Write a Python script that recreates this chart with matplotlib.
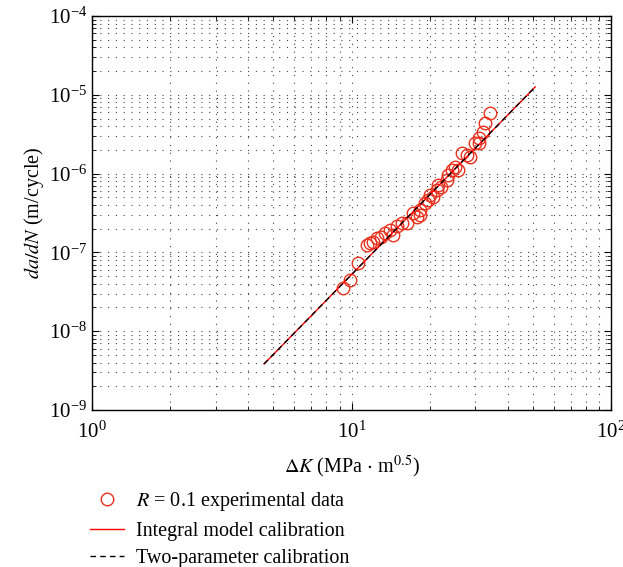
import matplotlib
matplotlib.use("Agg")
import matplotlib.pyplot as plt

plt.rcParams['font.family'] = ['Liberation Serif', 'DejaVu Serif']
plt.rcParams['mathtext.fontset'] = 'stix'

dk_exp = [9.25, 9.87, 10.63, 11.44, 11.79, 12.13, 12.51, 12.99, 13.46, 14.07,
          14.49, 14.93, 15.61, 16.41, 17.21, 17.84, 18.36, 18.36, 19.20, 19.77,
          20.07, 20.66, 21.30, 21.60, 22.07, 23.27, 23.60, 24.32, 25.05, 25.80,
          26.60, 27.80, 28.60, 29.90, 31.10, 31.10, 32.20, 32.70, 34.20]
dadn_exp = [3.50e-8, 4.47e-8, 7.28e-8, 1.24e-7, 1.30e-7, 1.37e-7, 1.51e-7, 1.58e-7, 1.75e-7, 1.92e-7,
            1.66e-7, 2.16e-7, 2.34e-7, 2.38e-7, 3.13e-7, 2.84e-7, 3.45e-7, 2.98e-7, 4.20e-7, 4.62e-7,
            5.35e-7, 5.09e-7, 6.19e-7, 7.17e-7, 6.82e-7, 8.30e-7, 9.60e-7, 1.11e-6, 1.22e-6, 1.11e-6,
            1.81e-6, 1.72e-6, 1.64e-6, 2.43e-6, 2.43e-6, 2.81e-6, 3.40e-6, 4.35e-6, 5.93e-6]

# calibration curves (end points)
dk_integral = [4.6, 51.0]
dadn_integral = [3.84e-9, 1.26e-5]
dk_two = [4.6, 51.0]
dadn_two = [3.84e-9, 1.26e-5]

fig = plt.figure(figsize=(6.23, 5.67), dpi=100)
ax = fig.add_axes([0.1477, 0.2769, 0.8333, 0.6949])

grid_style = dict(color='#444444', linestyle=(0, (1, 6)), linewidth=0.8)
ax.grid(True, which='both', **grid_style)

ax.plot(dk_exp, dadn_exp, 'o', mfc='none', mec='#e8321e', mew=1.0, ms=9,
        label=r'$R$ = 0.1 experimental data', zorder=3)
ax.plot(dk_integral, dadn_integral, '-', color='red', lw=1.0,
        label='Integral model calibration', zorder=4)
ax.plot(dk_two, dadn_two, '--', color='black', lw=1.0, dashes=(4, 3),
        label='Two-parameter calibration', zorder=5)

ax.set_xscale('log')
ax.set_yscale('log')
ax.set_xlim(1, 100)
ax.set_ylim(1e-9, 1e-4)

ax.tick_params(which='both', direction='in', top=True, right=True, labelsize=15)
ax.tick_params(axis='x', pad=8)
ax.tick_params(which='major', length=5)
ax.tick_params(which='minor', length=3)
for s in ax.spines.values():
    s.set_linewidth(1.0)

ax.set_xlabel(r'$\Delta K$ (MPa $\cdot$ m$^{0.5}$)', fontsize=14.5, labelpad=8)
ax.set_ylabel(r'$da/dN$ (m/cycle)', fontsize=14.5, labelpad=2)

fig.legend(loc='upper left', bbox_to_anchor=(0.131, 0.15), frameon=False,
           fontsize=14.5, handlelength=1.7, handletextpad=0.6, labelspacing=0.42,
           borderaxespad=0)

fig.savefig('out.png', dpi=100)
